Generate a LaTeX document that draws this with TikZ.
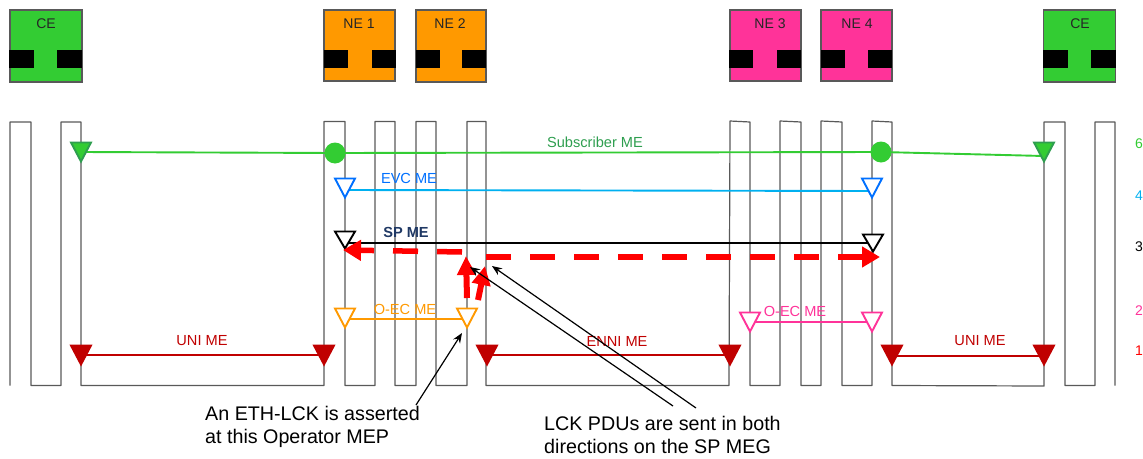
\documentclass[tikz,border=0pt]{standalone}
\usepackage{fontspec}
\setmainfont{Liberation Sans}
\usetikzlibrary{shapes.geometric,arrows.meta,backgrounds,calc}
\definecolor{grn}{HTML}{33CC33}
\definecolor{grnd}{HTML}{2E9E4F}
\definecolor{org}{HTML}{FF9900}
\definecolor{pnk}{HTML}{FF3399}
\definecolor{dred}{HTML}{C00000}
\definecolor{sky}{HTML}{00B0F0}
\definecolor{blu}{HTML}{0070FF}
\definecolor{nav}{HTML}{1F3864}
\definecolor{edge}{HTML}{595959}
\tikzset{
 x=1pt,y=-1pt,
 nebox/.style={draw=edge,line width=1.3pt,minimum width=71pt,minimum height=71pt,inner sep=0pt},
 nelabel/.style={font=\fontsize{14}{16}\selectfont,inner sep=0pt,text=black!85},
 bar/.style={fill=black,inner sep=0pt,minimum height=18pt,draw=none},
 mep/.style={isosceles triangle,isosceles triangle stretches,shape border rotate=-90,minimum width=20pt,minimum height=19pt,inner sep=0pt,outer sep=0pt,line width=1.9pt,anchor=apex,fill=white,yshift=1.5pt},
 mepfill/.style={mep,fill=#1,draw=#1},
 dot/.style={circle,fill=grn,draw=none,minimum size=21pt,inner sep=0pt},
 melabel/.style={font=\fontsize{14.6}{16}\selectfont,inner sep=0pt},
 meline/.style={line width=1.9pt},
 hatch/.style={line width=5.5pt,red,dash pattern=on 25pt off 19pt},
 bigtip/.style={-{Triangle[length=18pt,width=20pt]}},
 upred/.style={line width=6pt,red,-{Triangle[length=19pt,width=18pt]}},
 pointer/.style={line width=1.2pt,black,-{Stealth[length=10pt,width=8pt]}},
 note/.style={font=\fontsize{19.7}{23}\selectfont,align=left,anchor=north west,inner sep=0pt},
 num/.style={font=\fontsize{14}{16}\selectfont,inner sep=0pt,anchor=east},
}
\begin{document}
\begin{tikzpicture}
\useasboundingbox (0,0) rectangle (1143,458);
% equipment boxes
\node[nebox,fill=grn,minimum width=72pt,minimum height=72pt] (ce1) at (46,46) {};
\node[nebox,fill=org] (ne1) at (359.5,45.5) {};
\node[nebox,fill=org,minimum width=70pt,minimum height=72pt] (ne2) at (451,46) {};
\node[nebox,fill=pnk] (ne3) at (765.5,45.5) {};
\node[nebox,fill=pnk] (ne4) at (856.5,45.5) {};
\node[nebox,fill=grn,minimum width=72pt,minimum height=72pt] (ce2) at (1079.5,46) {};
\foreach \b/\l/\w/\r in {ce1/9/25/57,ne1/324/24/372,ne2/416/24/462,ne3/729/24/777,ne4/821/24/868,ce2/1043/25/1091}{
  \node[bar,minimum width=\w pt,anchor=west] at (\l,59) {};
  \node[bar,minimum width=\w pt,anchor=west] at (\r,59) {};
}
\node[nelabel] at (46,24) {CE};
\node[nelabel] at (359,24) {NE 1};
\node[nelabel] at (450,24) {NE 2};
\node[nelabel] at (770,24) {NE 3};
\node[nelabel] at (857,24) {NE 4};
\node[nelabel] at (1080,24) {CE};
% port zigzag
\begin{scope}[on background layer]
\draw[edge,line width=1.2pt,line join=round]
 (10,385.5)--(10,122)--(31,122)--(31,385.5)--(61,385.5)--(61,122)--(81,122)--(81,385.5)
 --(324,385.5)--(324,121.5)--(345,121.5)--(345,385.5)--(375,385.5)--(375,121.5)--(395,121.5)--(395,385.5)
 --(416,385.5)--(416,121.5)--(436,121.5)--(436,385.5)--(467,385.5)--(467,121.5)--(486,121.5)--(486,385.5)
 --(729,385.5)--(730,121)--(750,122)--(750,385.5)--(780,385.5)--(780,121)--(801,122)--(801,385.5)
 --(821,385.5)--(821,121)--(842,122)--(842,385.5)--(872,385.5)--(872,121)--(892,122)--(892,385.5)
 --(1044,386)--(1044,122)--(1065,122)--(1065,385.5)--(1095,385.5)--(1095,122)--(1115,122)--(1115,385.5);
\end{scope}
% MEPs
\node[mepfill=grn,draw=grnd] (sl) at (81,163) {};
\node[mepfill=grn,draw=grnd] (sr) at (1044,163) {};
\node[dot] (c1) at (335,153) {};
\node[dot] (c2) at (881,152) {};
\node[mep,draw=blu] (el) at (345,199) {};
\node[mep,draw=blu] (er) at (872,199) {};
\node[mep,draw=black,minimum height=17pt] (pl) at (345,250) {};
\node[mep,draw=black,minimum height=17pt] (pr) at (873,253) {};
\node[mep,draw=org] (ol) at (345,329) {};
\node[mep,draw=org] (or) at (467,329) {};
\node[mep,draw=pnk] (ql) at (750,333) {};
\node[mep,draw=pnk] (qr) at (872,333) {};
\node[mepfill=dred] (u1) at (81,366) {};
\node[mepfill=dred] (u2) at (324,366) {};
\node[mepfill=dred] (n1) at (487,366) {};
\node[mepfill=dred] (n2) at (730,366) {};
\node[mepfill=dred] (u3) at (892,366) {};
\node[mepfill=dred] (u4) at (1044,366) {};
% ME lines
\begin{scope}[on background layer]
\draw[meline,grn] ($(sl.apex)+(0,-9.5)$) -- (c1.center);
\draw[meline,grn] (c1.center) -- (c2.center);
\draw[meline,grn] (c2.center) -- ($(sr.apex)+(0,-5.5)$);
\draw[meline,sky] ($(el.apex)+(0,-7.5)$) -- ($(er.apex)+(0,-6.5)$);
\draw[meline,black] ($(pl.apex)+(0,-5.5)$) -- ($(pr.apex)+(0,-8.5)$);
\draw[meline,org] ($(ol.apex)+(0,-8.5)$) -- ($(or.apex)+(0,-8.5)$);
\draw[meline,pnk] ($(ql.apex)+(0,-9.5)$) -- ($(qr.apex)+(0,-9.5)$);
\draw[meline,dred] ($(u1.apex)+(0,-9.5)$) -- ($(u2.apex)+(0,-9.5)$);
\draw[meline,dred] ($(n1.apex)+(0,-9.5)$) -- ($(n2.apex)+(0,-9.5)$);
\draw[meline,dred] ($(u3.apex)+(0,-8.5)$) -- ($(u4.apex)+(0,-8.5)$);
\end{scope}
% ME labels
\node[melabel,text=grnd] at (595,142) {Subscriber ME};
\node[melabel,text=blu] at (409,178) {EVC ME};
\node[melabel,text=nav,font=\fontsize{14.6}{16}\selectfont\bfseries] at (406,232) {SP ME};
\node[melabel,text=org] at (405,309) {O-EC ME};
\node[melabel,text=pnk] at (795,311) {O-EC ME};
\node[melabel,text=dred] at (202,341) {UNI ME};
\node[melabel,text=dred] at (617,341) {ENNI ME};
\node[melabel,text=dred] at (980,341) {UNI ME};
% red LCK arrows
\coordinate (lckl) at (462,252);
\coordinate (lckr) at (486,257);
\draw[hatch,bigtip] (lckl) -- (343,250);
\draw[hatch,bigtip] (lckr) -- (880,257);
\draw[upred] (467,298) -- (466,256);
\draw[upred] (478,300) -- (485,266);
% notes
\node[note] (n1t) at (205,406) {An ETH-LCK is asserted\\at this Operator MEP};
\node[note] (n2t) at (544,416.5) {LCK PDUs are sent in both\\directions on the SP MEG};
\coordinate (p1) at (416,405);
\coordinate (p2) at (673,406);
\coordinate (p3) at (696,408);
\draw[pointer] (p1) -- (462,333);
\draw[pointer] (p2) -- (470,267);
\draw[pointer] (p3) -- (492,266);
% row numbers
\node[num,text=grn] at (1143,144) {6};
\node[num,text=sky] at (1143,196) {4};
\node[num,text=black] at (1143,247) {3};
\node[num,text=pnk] at (1143,311) {2};
\node[num,text=red] at (1143,351) {1};
\end{tikzpicture}
\end{document}
